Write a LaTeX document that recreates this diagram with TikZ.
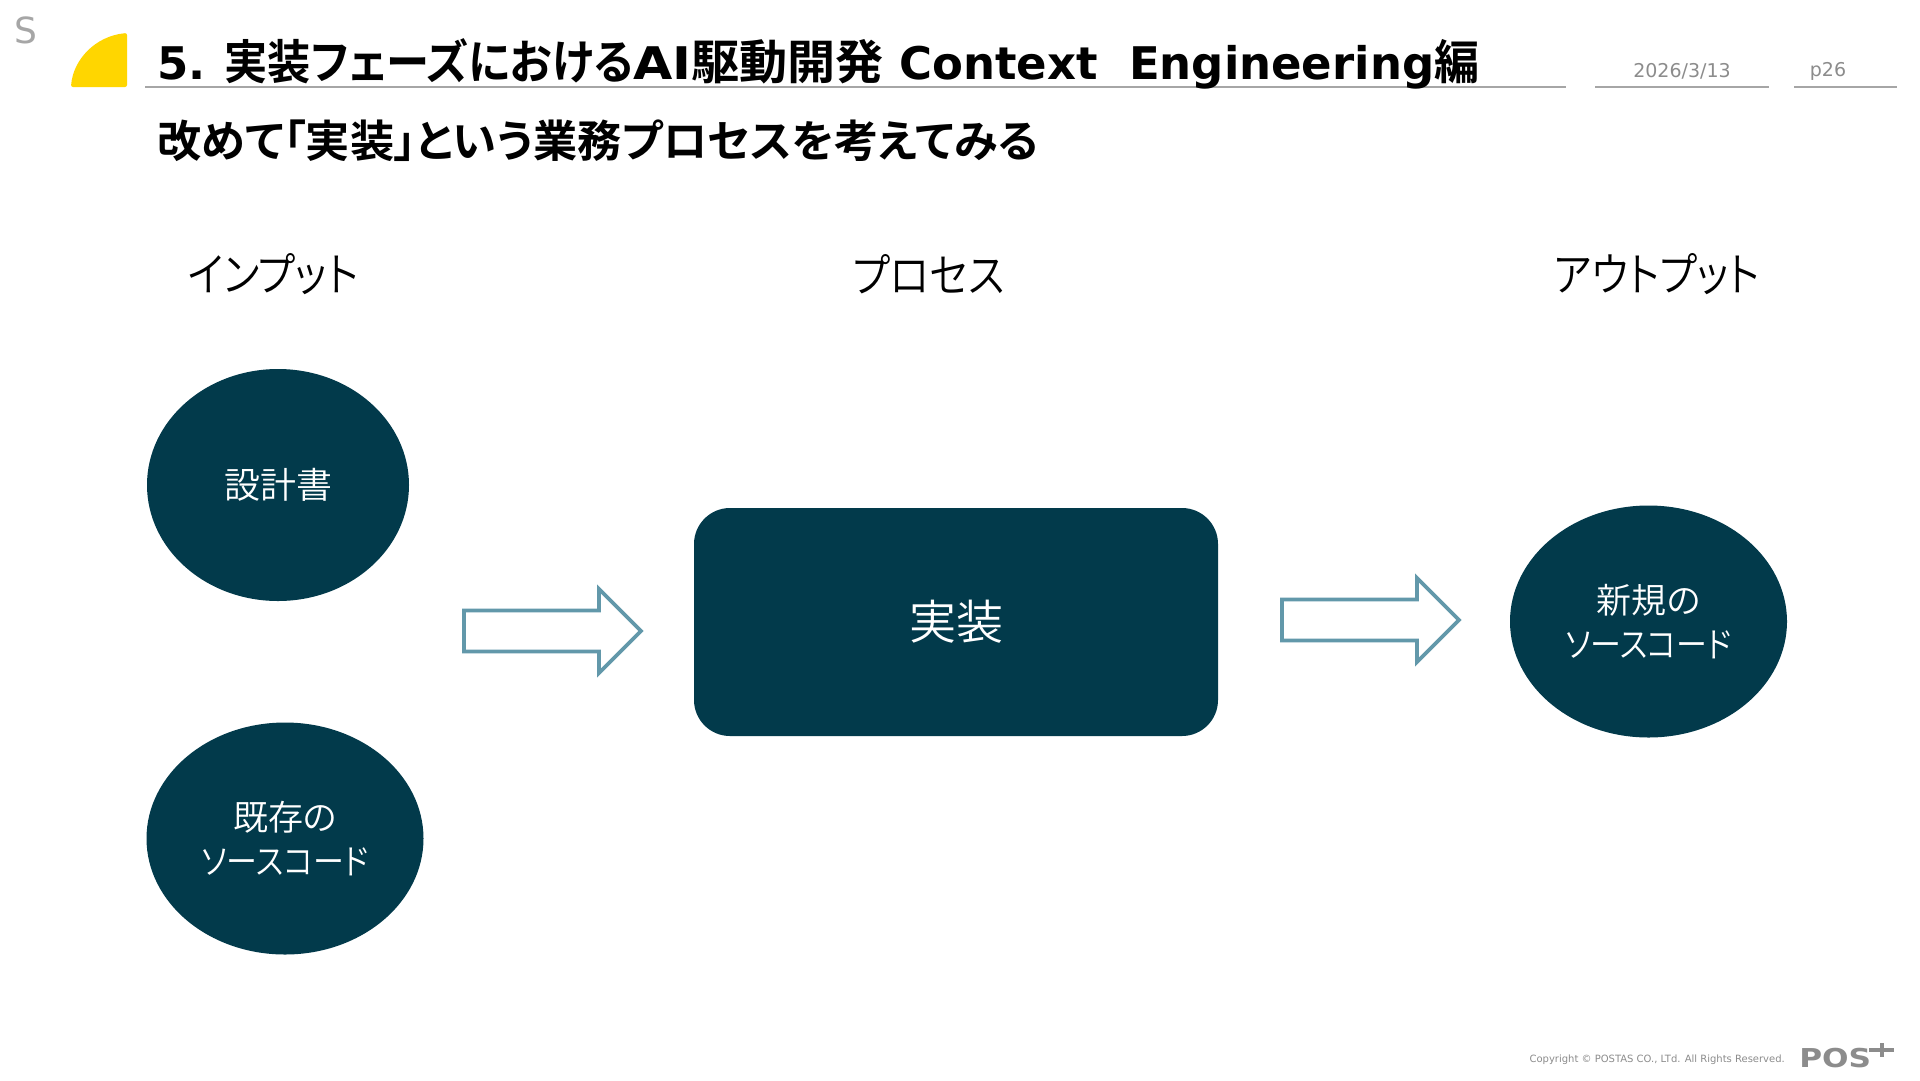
\documentclass[tikz,border=0pt]{standalone}
\usepackage{fontspec}
\usepackage{graphicx}
\usetikzlibrary{shapes.geometric}
\setmainfont{DejaVu Sans}
\newfontfamily\jpl[RawFeature=+palt,UprightFont={* DemiLight}]{Noto Sans CJK JP}
\newfontfamily\jpb[RawFeature=+palt,BoldFont={* Bold}]{Noto Sans CJK JP}
\newfontfamily\lat{DejaVu Sans}
\newfontfamily\ver{DejaVu Sans}
\newcommand{\fs}[1]{\fontsize{#1}{#1}\selectfont}
\newcommand{\srccode}{\scalebox{.885}[1]{ソースコード}}
\newcommand{\hd}[1]{\scalebox{.88}[1]{#1}}
\definecolor{deep}{HTML}{023A4B}
\definecolor{arrowc}{HTML}{6298AA}
\definecolor{ruleg}{HTML}{A6A6A6}
\definecolor{txtg}{HTML}{8C8C8C}
\definecolor{sunny}{HTML}{FFD600}
\tikzset{
  x=1pt,y=-1pt,
  blob/.style={draw=none,fill=deep,text=white,align=center,font=\jpl\fs{35},inner sep=0pt},
  head/.style={font=\jpl\fs{46},inner sep=0pt,text=black},
  hollow/.style={draw=arrowc,line width=3.8pt,fill=white,miter limit=10},
  rulel/.style={draw=ruleg,line width=1.6pt},
  small/.style={font=\ver\fs{19},text=txtg,inner sep=0pt}
}
\begin{document}
\begin{tikzpicture}
\useasboundingbox (0,0) rectangle (1920,1080);
\fill[white] (0,0) rectangle (1920,1080);
\node[font=\ver\fs{36},text=ruleg,inner sep=0pt] (sletter) at (26,30) {S};
\fill[sunny,rounded corners=2pt] (71,87) .. controls (73,60) and (95,36) .. (127,33) -- (127,87) -- cycle;
\draw[rulel] (145,87) -- (1566,87);
\draw[rulel] (1595,87) -- (1769,87);
\draw[rulel] (1794,87) -- (1897,87);
\node[anchor=west,inner sep=0pt] (title) at (157,63.5) {\resizebox{1322pt}{!}{\jpb\bfseries\fs{46}{\lat\bfseries 5.\hspace{.42em}}\scalebox{.96}[1.05]{実装フェーズにおける}{\lat\bfseries\scalebox{1.13}[1]{AI}}\scalebox{1.07}[1.05]{駆動開発}{\lat\bfseries\ Context\ \ Engineering}\scalebox{1}[1.05]{編}}};
\node[anchor=west,inner sep=0pt] (subtitle) at (157,141) {\resizebox{881pt}{!}{\jpb\bfseries\fs{44}改めて「実装」という業務プロセスを考えてみる}};
\node[small] (date) at (1682,71) {2026/3/13};
\node[small] (page) at (1828,71) {p26};
\node[head] (hin) at (273,274) {\hd{インプット}};
\node[head] (hproc) at (929,274) {\hd{プロセス}};
\node[head] (hout) at (1657,274) {\hd{アウトプット}};
\node[blob,ellipse,minimum width=262pt,minimum height=232pt,font=\jpl\fs{36}] (design) at (278,485) {設計書};
\node[blob,ellipse,minimum width=277pt,minimum height=232pt] (exist) at (285,838.5) {既存の\\[9pt]\srccode};
\node[blob,ellipse,minimum width=277pt,minimum height=232pt] (new) at (1648.5,621.5) {新規の\\[9pt]\srccode};
\node[blob,rounded corners=36pt,minimum width=524pt,minimum height=228pt,font=\jpl\fs{47}] (impl) at (956,622) {実装};
\draw[hollow] (464,610.5) -- (599,610.5) -- (599,589) -- (641,631) -- (599,673) -- (599,651.5) -- (464,651.5) -- cycle;
\draw[hollow] (1282,599.5) -- (1417,599.5) -- (1417,578) -- (1459,620) -- (1417,662) -- (1417,640.5) -- (1282,640.5) -- cycle;
\node[font=\ver\fs{10},text=txtg,anchor=east,inner sep=0pt] (copy) at (1785,1060) {Copyright © POSTAS CO., LTd. All Rights Reserved.};
\node[font=\ver\bfseries\fs{26},text=txtg,anchor=west,inner sep=0pt,xscale=1.2] (logo) at (1799,1058) {POS};
\draw[txtg,line width=3.2pt] (1869,1050) -- (1894,1050);
\draw[txtg,line width=3.2pt] (1882,1043) -- (1882,1057);
\end{tikzpicture}
\end{document}
